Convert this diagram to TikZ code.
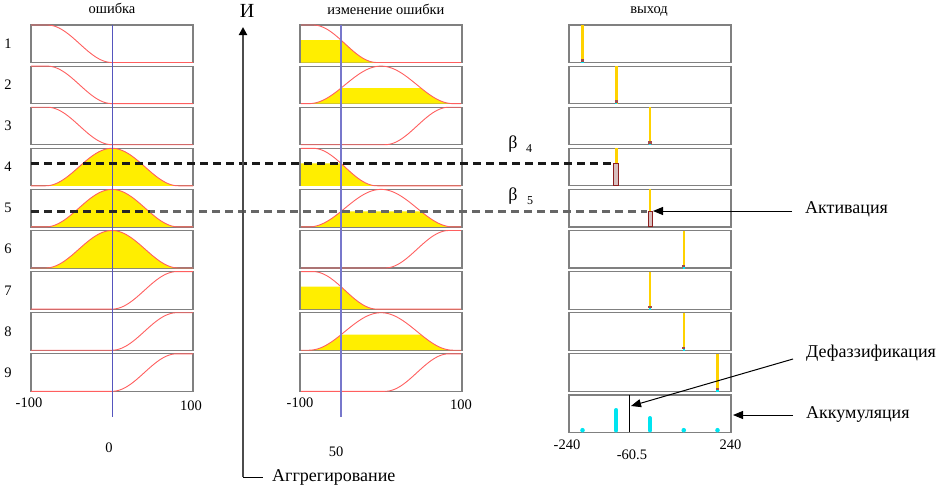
\documentclass[tikz,border=0pt]{standalone}
\usepackage{fontspec}
\setmainfont{Liberation Serif}
\usetikzlibrary{arrows.meta}
\definecolor{mfred}{RGB}{255,95,95}
\definecolor{blueln}{RGB}{85,85,190}
\definecolor{yel}{RGB}{255,238,0}
\definecolor{goldln}{RGB}{255,210,0}
\definecolor{dred}{RGB}{140,30,30}
\definecolor{pinkgray}{RGB}{215,190,190}
\definecolor{cyanbar}{RGB}{0,228,240}
\definecolor{boxgray}{RGB}{128,128,128}
\begin{document}
\begin{tikzpicture}[x=1pt,y=-1pt,
  declare function={
    fzl(\x)=0.5*(1+cos(180*min(max((\x+80)/80,0),1)));
    fbl(\x)=0.5*(1+cos(180*min(abs(\x)/82,1)));
    fsl(\x)=0.5*(1-cos(180*min(max(\x/80,0),1)));
    fzm(\x)=0.5*(1+cos(180*min(max((\x+85)/80,0),1)));
    fbm(\x)=0.5*(1+cos(180*min(abs(\x)/90,1)));
    fsm(\x)=0.5*(1-cos(180*min(max((\x-5)/80,0),1)));
  },
  box/.style={draw=boxgray,line width=1.2pt,minimum width=162pt,minimum height=37.5pt,inner sep=0pt,outer sep=0pt},
  mf/.style={draw=mfred,line width=0.9pt},
  txt/.style={font=\fontsize{14.5}{17}\selectfont,inner sep=0pt},
  big/.style={font=\fontsize{18}{21}\selectfont,inner sep=0pt},
  subtxt/.style={font=\fontsize{12}{14}\selectfont,inner sep=0pt},
  arr/.style={line width=1pt,-{Triangle[length=10pt,width=8pt]}},
  dashln/.style={line width=2.4pt,dash pattern=on 8pt off 5pt}
]
\useasboundingbox (0,0) rectangle (952,490);

% ---------- boxes and row numbers
\foreach \i in {1,...,9}{
  \pgfmathsetmacro\rowc{25+(\i-1)*41.1+18.75}
  \node[box] (L\i) at (112,\rowc) {};
  \node[box] (M\i) at (381,\rowc) {};
  \node[box] (R\i) at (650,\rowc) {};
  \node[txt] (n\i) at (8,\rowc) {\i};
}
\node[box] (R10) at (650,{25+9*41.1+18.75}) {};

% ---------- yellow fills
\foreach \i in {4,5,6}{
  \pgfmathsetmacro\rowb{25+(\i-1)*41.1+37.5}
  \fill[yel] (31,\rowb) -- plot[domain=-100:100,samples=101] ({112+0.81*\x},{\rowb-37.5*fbl(\x)}) -- cycle;
}
\foreach \i in {1,4,7}{
  \pgfmathsetmacro\rowb{25+(\i-1)*41.1+37.5}
  \fill[yel] (301,\rowb) -- plot[domain=-100:100,samples=101] ({381+0.8*\x},{\rowb-37.5*min(fzm(\x),0.5975)}) -- cycle;
}
\foreach \i in {2,5,8}{
  \pgfmathsetmacro\rowb{25+(\i-1)*41.1+37.5}
  \fill[yel] (301,\rowb) -- plot[domain=-100:100,samples=101] ({381+0.8*\x},{\rowb-37.5*min(fbm(\x),0.4132)}) -- cycle;
}

% ---------- membership curves
\foreach \i in {1,2,3}{
  \pgfmathsetmacro\rowb{25+(\i-1)*41.1+37.5}
  \draw[mf] plot[domain=-100:100,samples=101] ({112+0.81*\x},{\rowb-37.5*fzl(\x)});
}
\foreach \i in {4,5,6}{
  \pgfmathsetmacro\rowb{25+(\i-1)*41.1+37.5}
  \draw[mf] plot[domain=-100:100,samples=101] ({112+0.81*\x},{\rowb-37.5*fbl(\x)});
}
\foreach \i in {7,8,9}{
  \pgfmathsetmacro\rowb{25+(\i-1)*41.1+37.5}
  \draw[mf] plot[domain=-100:100,samples=101] ({112+0.81*\x},{\rowb-37.5*fsl(\x)});
}
\foreach \i in {1,4,7}{
  \pgfmathsetmacro\rowb{25+(\i-1)*41.1+37.5}
  \draw[mf] plot[domain=-100:100,samples=101] ({381+0.8*\x},{\rowb-37.5*fzm(\x)});
}
\foreach \i in {2,5,8}{
  \pgfmathsetmacro\rowb{25+(\i-1)*41.1+37.5}
  \draw[mf] plot[domain=-100:100,samples=101] ({381+0.8*\x},{\rowb-37.5*fbm(\x)});
}
\foreach \i in {3,6,9}{
  \pgfmathsetmacro\rowb{25+(\i-1)*41.1+37.5}
  \draw[mf] plot[domain=-100:100,samples=101] ({381+0.8*\x},{\rowb-37.5*fsm(\x)});
}

% ---------- input lines
\coordinate (inLtop) at (112,25);
\coordinate (inLbot) at (112,417);
\coordinate (inMtop) at (341,25);
\coordinate (inMbot) at (341,417);
\draw[blueln,line width=0.9pt] (inLtop) -- (inLbot);
\draw[blueln!80,line width=1.8pt] (inMtop) -- (inMbot);

% ---------- output column
\foreach \i/\xx/\w in {1/582.5/2.5,2/616.25/2.5,3/650/1.6,6/683.75/1.6,7/650/1.6,8/683.75/1.6,9/717.5/2.6}{
  \pgfmathsetmacro\rowt{25+(\i-1)*41.1}
  \pgfmathsetmacro\rowb{\rowt+37.5}
  \draw[goldln,line width=\w pt] (\xx,\rowt) -- (\xx,\rowb);
  \fill[dred!80] (\xx-1.6,\rowb-3.5) rectangle (\xx+1.6,\rowb-1);
  \fill[cyanbar] (\xx-1.2,\rowb-1) rectangle (\xx+1.2,\rowb+0.5);
}
% row 4 (level 163.4) and row 5 (level 211.4)
\draw[goldln,line width=2.5pt] (616.25,148.3) -- (616.25,163.4);
\filldraw[fill=pinkgray,draw=dred,line width=1pt] (613.7,163.4) rectangle (618.8,185.8);
\draw[goldln,line width=1.6pt] (650,189.4) -- (650,211.4);
\filldraw[fill=pinkgray,draw=dred,line width=1pt] (648,211.4) rectangle (652.2,226.9);

% ---------- dashed activation levels
\coordinate (d4s) at (31,163.4);
\coordinate (d4e) at (611,163.4);
\coordinate (d5s) at (31,211.4);
\coordinate (d5m) at (150,211.4);
\coordinate (d5e) at (647,211.4);
\draw[dashln,black!90] (d4s) -- (d4e);
\draw[dashln,black!85] (d5s) -- (d5m);
\draw[dashln,black!60,dash phase=3pt] (d5m) -- (d5e);

\node[big] (beta4) at (513,144) {β};
\node[subtxt] (sub4) at (529,149) {4};
\node[big] (beta5) at (513,196) {β};
\node[subtxt] (sub5) at (530,201) {5};

% ---------- accumulation box
\draw[cyanbar,line width=4pt,line cap=round] (616.25,410) -- (616.25,430.5);
\draw[cyanbar,line width=4pt,line cap=round] (650,418) -- (650,430.5);
\fill[cyanbar] (582.5,430.2) circle (2.3);
\fill[cyanbar] (683.75,430.2) circle (2.3);
\fill[cyanbar] (717.5,430.2) circle (2.3);
\coordinate (cogTop) at (629.6,394.9);
\coordinate (cogBot) at (629.6,432.4);
\draw[black,line width=1.6pt] (cogTop) -- (cogBot);

% ---------- titles and axis numbers
\node[txt] (t1) at (112,8) {ошибка};
\node[txt] (t2) at (386,9) {изменение ошибки};
\node[txt] (t3) at (649,11) {выход};
\node[font=\fontsize{20}{24}\selectfont,inner sep=0pt] (Ilbl) at (247,11) {И};

\node[txt] (a1) at (29,403) {-100};
\node[txt] (a2) at (191,406) {100};
\node[txt] (a3) at (109,448) {0};
\node[txt] (b1) at (300,403) {-100};
\node[txt] (b2) at (461,405) {100};
\node[txt] (b3) at (336,452) {50};
\node[txt] (c1) at (567,445) {-240};
\node[txt] (c2) at (730.5,445) {240};
\node[txt] (c3) at (632,455) {-60.5};

% ---------- aggregation axis
\coordinate (aggCorner) at (243,477);
\coordinate (aggTop) at (243,27);
\draw[line width=2pt,black!70,-{Triangle[length=8pt,width=8pt,color=black]}] (aggCorner) -- (aggTop);
\node[big,anchor=west] (agg) at (272,477) {Аггрегирование};
\draw[line width=1pt] (aggCorner) -- ([xshift=-9pt]agg.west);

% ---------- right labels and arrows
\node[big,anchor=west] (act) at (805,209) {Активация};
\coordinate (actTail) at (792,211);
\coordinate (actTip) at (653,211);
\draw[arr] (actTail) -- (actTip);

\node[big,anchor=west] (defuz) at (806,353) {Дефаззификация};
\coordinate (defTail) at (793,359);
\coordinate (defTip) at (631,406);
\draw[arr] (defTail) -- (defTip);

\node[big,anchor=west] (acc) at (806,414) {Аккумуляция};
\coordinate (accTail) at (793,415);
\coordinate (accTip) at (733,415);
\draw[arr] (accTail) -- (accTip);
\end{tikzpicture}
\end{document}
